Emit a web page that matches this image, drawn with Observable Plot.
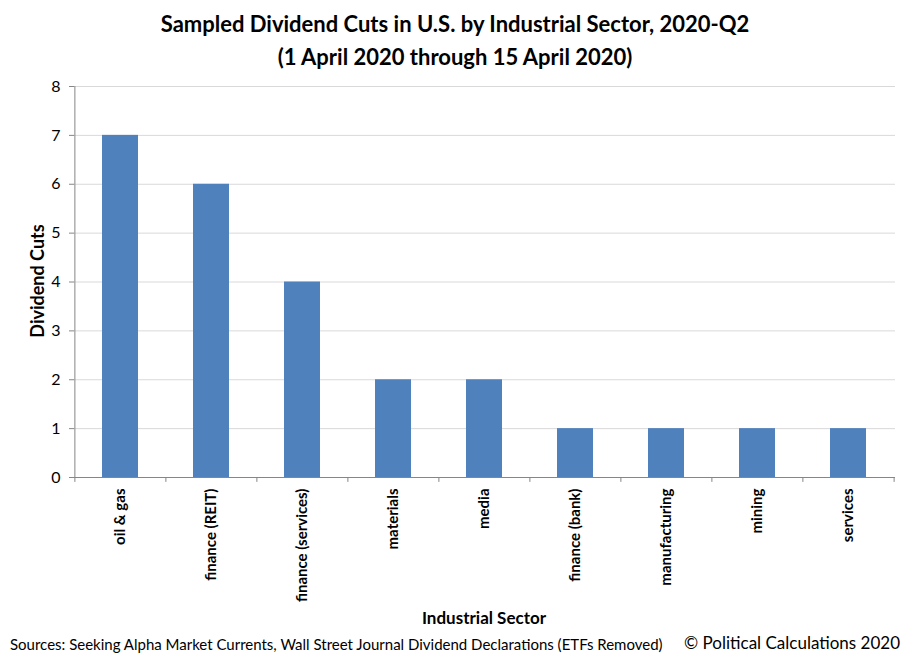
<!DOCTYPE html>
<html><head><meta charset="utf-8">
<script src="https://cdn.jsdelivr.net/npm/d3@7"></script>
<script src="https://cdn.jsdelivr.net/npm/@observablehq/plot@0.6"></script>
<style>
body{margin:0;background:#fff;font-family:Lato,"Open Sans",sans-serif;}
#wrap{position:relative;width:910px;height:661px;overflow:hidden;background:#fff;}
.t{position:absolute;white-space:nowrap;color:#000;font-family:Lato,"Open Sans",sans-serif;}
#chart{position:absolute;left:0;top:0;}
</style></head><body>
<div id="wrap">
<div class="t" style="left:0;width:910px;top:7px;text-align:center;font-weight:bold;font-size:22px;line-height:33px;">Sampled Dividend Cuts in U.S. by Industrial Sector, 2020-Q2<br>(1 April 2020 through 15 April 2020)</div>
<div id="chart"></div>
<div class="t" style="left:37px;top:281px;transform:translate(-50%,-50%) rotate(-90deg);font-weight:bold;font-size:18px;line-height:20px;">Dividend Cuts</div>
<div class="t" style="left:484px;top:608px;transform:translateX(-50%);font-weight:bold;font-size:17px;line-height:20px;">Industrial Sector</div>
<div class="t" style="left:10px;top:635px;font-size:15px;line-height:18px;">Sources: Seeking Alpha Market Currents, Wall Street Journal Dividend Declarations (ETFs Removed)</div>
<div class="t" style="right:10px;top:633px;font-size:17px;line-height:20px;">© Political Calculations 2020</div>
</div>
<script>
const sectors = ["oil & gas","finance (REIT)","finance (services)","materials","media","finance (bank)","manufacturing","mining","services"];
const cuts = [7,6,4,2,2,1,1,1,1];
const yTicks = [0,1,2,3,4,5,6,7,8];

const data = sectors.map((s,i)=>({sector:s, cuts:cuts[i]}));
const W=910,H=661,ML=74,MR=15,MT=86,MB=184;
const bw=(W-ML-MR)/sectors.length;
const chart = Plot.plot({
  width:W,height:H,marginLeft:ML,marginRight:MR,marginTop:MT,marginBottom:MB,
  style:{fontFamily:"Lato, 'Open Sans', sans-serif",fontSize:"15px",color:"#000",background:"transparent",overflow:"visible"},
  x:{domain:sectors,paddingInner:0.6,paddingOuter:0.3,label:null},
  y:{domain:[0,8],label:null},
  marks:[
    Plot.gridY(yTicks.filter(d=>d>0),{stroke:"#d9d9d9",strokeOpacity:1}),
    Plot.barY(data,{x:"sector",y:"cuts",fill:"#4f81bd"}),
    Plot.ruleY([0],{stroke:"#868686"}),
    Plot.ruleX([sectors[0]],{dx:-bw/2,y1:0,y2:8,stroke:"#868686"}),
    Plot.ruleX(sectors,{x:d=>d,dx:-bw/2,y1:0,y2:-0.1,stroke:"#868686"}),
    Plot.ruleX([sectors[sectors.length-1]],{dx:bw/2,y1:0,y2:-0.1,stroke:"#868686"}),
    Plot.axisY(yTicks,{tickSize:5,tickPadding:9,stroke:"#868686",fill:"#000",fontSize:16,label:null}),
    Plot.axisX({tickSize:0,tickRotate:-90,tickPadding:11,fontWeight:"bold",fontSize:15,fill:"#000",label:null})
  ]
});
document.getElementById("chart").appendChild(chart);
</script>
</body></html>
